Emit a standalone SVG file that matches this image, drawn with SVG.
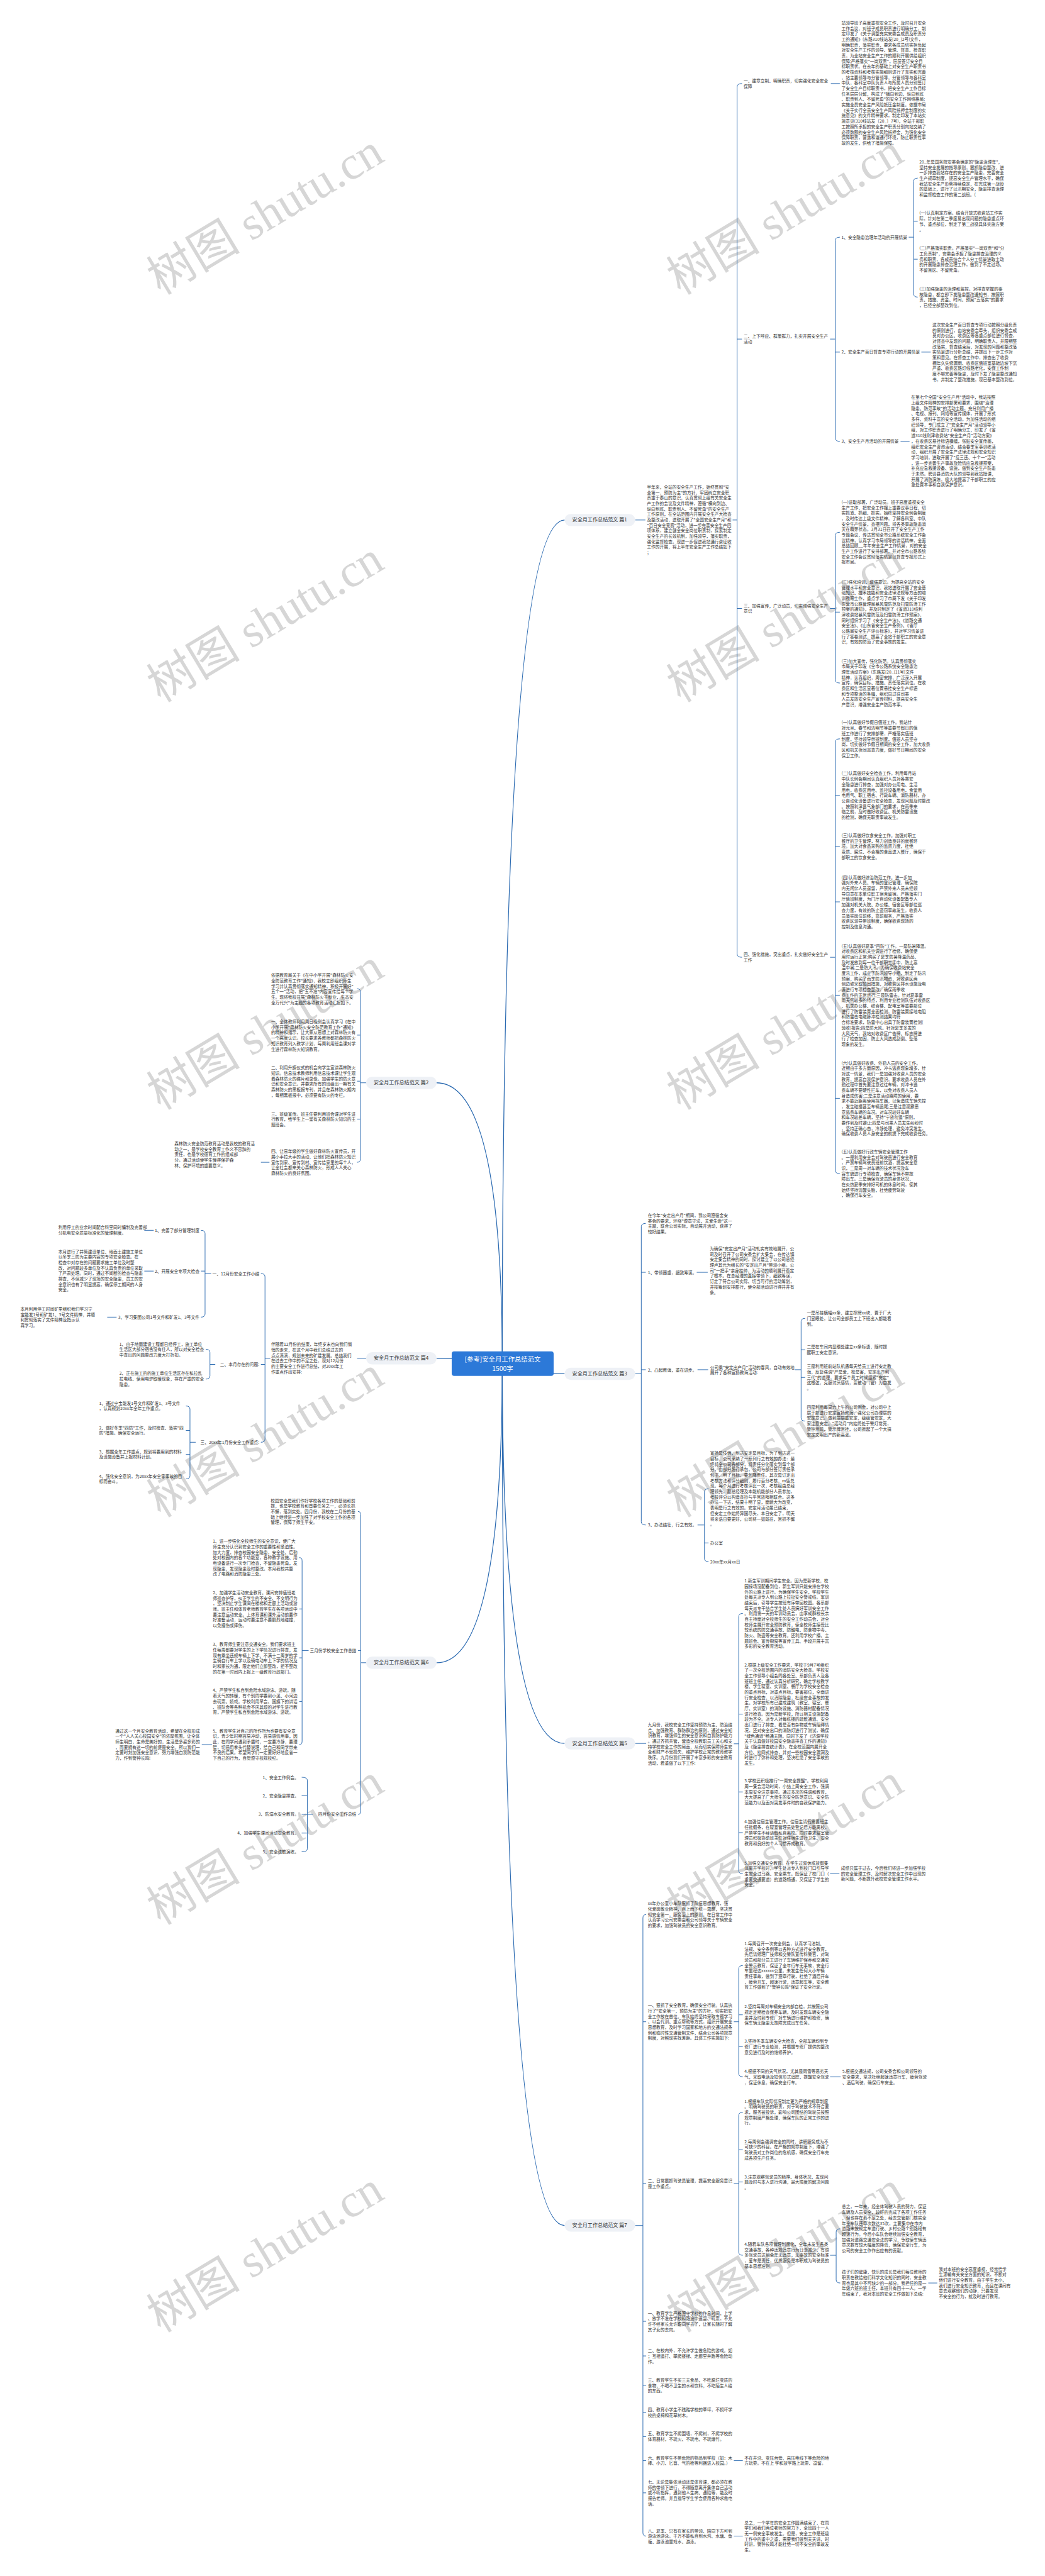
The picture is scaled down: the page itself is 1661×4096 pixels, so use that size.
<svg xmlns="http://www.w3.org/2000/svg" width="1661" height="4096" viewBox="0 0 1661 4096">
<style>
.t{font-family:"Noto Sans CJK SC","Liberation Sans",sans-serif;font-size:10.4px;fill:#333}
.e{text-anchor:end}
.n{font-family:"Noto Sans CJK SC","Liberation Sans",sans-serif;font-size:12.5px;fill:#333;text-anchor:middle}
.nb{fill:#eef1f6}
.c{fill:none;stroke:#2868b0;stroke-width:1.5}
.m{fill:none;stroke:#2868b0;stroke-width:2}
.w{font-family:"Liberation Serif","Noto Sans CJK SC",serif;font-size:115px;fill:#d6d6d6;text-anchor:middle}
.r{font-family:"Noto Sans CJK SC","Liberation Sans",sans-serif;font-size:16px;fill:#fff;text-anchor:middle}
</style>
<rect width="1661" height="4096" fill="#fff"/>
<g transform="scale(0.648)">
<g id="watermarks">
<text class="w" x="650" y="565" transform="rotate(-31 650 525)">树图 shutu.cn</text>
<text class="w" x="1925" y="565" transform="rotate(-31 1925 525)">树图 shutu.cn</text>
<text class="w" x="650" y="1565" transform="rotate(-31 650 1525)">树图 shutu.cn</text>
<text class="w" x="1925" y="1565" transform="rotate(-31 1925 1525)">树图 shutu.cn</text>
<text class="w" x="650" y="2565" transform="rotate(-31 650 2525)">树图 shutu.cn</text>
<text class="w" x="1925" y="2565" transform="rotate(-31 1925 2525)">树图 shutu.cn</text>
<text class="w" x="650" y="3565" transform="rotate(-31 650 3525)">树图 shutu.cn</text>
<text class="w" x="1925" y="3565" transform="rotate(-31 1925 3525)">树图 shutu.cn</text>
<text class="w" x="650" y="4565" transform="rotate(-31 650 4525)">树图 shutu.cn</text>
<text class="w" x="1925" y="4565" transform="rotate(-31 1925 4525)">树图 shutu.cn</text>
<text class="w" x="650" y="5565" transform="rotate(-31 650 5525)">树图 shutu.cn</text>
<text class="w" x="1925" y="5565" transform="rotate(-31 1925 5525)">树图 shutu.cn</text>
</g>
<g id="connectors">
<path class="m" d="M1232,3346 Q1232,1276 1385,1276"/>
<path class="m" d="M1232,3346 Q1232,2657 1071,2657"/>
<path class="m" d="M1232,3346 Q1232,3371 1385,3371"/>
<path class="m" d="M1232,3346 Q1232,3333 1071,3333"/>
<path class="m" d="M1232,3346 Q1232,4278 1385,4278"/>
<path class="m" d="M1232,3346 Q1232,4080 1071,4080"/>
<path class="m" d="M1232,3346 Q1232,5461 1385,5461"/>
<path class="c" d="M1558,1276 L1583,1276 M1797,1276 L1808,1276 M1820,205 Q1808,205 1808,213 L1808,2341 Q1808,2349 1820,2349 M1808,832 L1820,832 M1808,1493 L1820,1493"/>
<path class="c" d="M2038,205 L2060,205 M2036,832 L2049,832 M2060,582 Q2049,582 2049,590 L2049,1075 Q2049,1083 2060,1083 M2049,864 L2060,864"/>
<path class="c" d="M2229,582 L2241,582 M2251,437 Q2241,437 2241,445 L2241,721 Q2241,729 2251,729 M2241,543 L2251,543 M2241,636 L2251,636 M2260,864 L2283,864 M2209,1083 L2231,1083"/>
<path class="c" d="M2036,1493 L2049,1493 M2060,1306 Q2049,1306 2049,1314 L2049,1668 Q2049,1676 2060,1676 M2049,1502 L2060,1502"/>
<path class="c" d="M2036,2349 L2049,2349 M2060,1813 Q2049,1813 2049,1821 L2049,2872 Q2049,2880 2060,2880 M2049,1952 L2060,1952 M2049,2077 L2060,2077 M2049,2213 L2060,2213 M2049,2442 L2060,2442 M2049,2695 L2060,2695"/>
<path class="c" d="M898,2657 L884,2657 M876,2426 Q884,2426 884,2434 L884,2844 Q884,2852 876,2852 M884,2540 L876,2540 M884,2653 L876,2653 M884,2746 L876,2746 M661,2852 L640,2852"/>
<path class="c" d="M898,3333 L876,3333 M663,3333 L650,3333 M640,3125 Q650,3125 650,3133 L650,3531 Q650,3539 640,3539 M650,3348 L640,3348"/>
<path class="c" d="M518,3125 L503,3125 M493,3019 Q503,3019 503,3027 L503,3224 Q503,3232 493,3232 M503,3119 L493,3119 M377,3019 L354,3019 M377,3119 L354,3119 M286,3232 L263,3232"/>
<path class="c" d="M528,3348 L515,3348 M505,3311 Q515,3311 515,3319 L515,3376 Q515,3384 505,3384"/>
<path class="c" d="M480,3539 L466,3539 M456,3450 Q466,3450 466,3458 L466,3621 Q466,3629 456,3629 M466,3510 L456,3510 M466,3569 L456,3569"/>
<path class="c" d="M898,4080 L885,4080 M878,3709 Q885,3709 885,3717 L885,4444 Q885,4452 878,4452 M885,4050 L878,4050"/>
<path class="c" d="M757,4050 L741,4050 M734,3822 Q741,3822 741,3830 L741,4273 Q741,4281 734,4281 M741,3948 L734,3948 M741,4068 L734,4068 M741,4175 L734,4175 M520,4281 L495,4281"/>
<path class="c" d="M767,4452 L754,4452 M740,4361 Q754,4361 754,4369 L754,4536 Q754,4544 740,4544 M754,4406 L740,4406 M754,4452 L740,4452 M754,4498 L740,4498"/>
<path class="c" d="M1558,3371 L1573,3371 M1584,3002 Q1573,3002 1573,3010 L1573,3734 Q1573,3742 1584,3742 M1573,3122 L1584,3122 M1573,3361 L1584,3361 M1709,3122 L1736,3122 M1711,3361 L1737,3361"/>
<path class="c" d="M1950,3361 L1965,3361 M1975,3235 Q1965,3235 1965,3243 L1965,3479 Q1965,3487 1975,3487 M1965,3312 L1975,3312 M1965,3380 L1975,3380"/>
<path class="c" d="M1711,3742 L1728,3742 M1738,3653 Q1728,3653 1728,3661 L1728,3824 Q1728,3832 1738,3832 M1728,3786 L1738,3786"/>
<path class="c" d="M1558,4278 L1585,4278 M1800,4279 L1812,4279 M1822,3959 Q1812,3959 1812,3967 L1812,4590 Q1812,4598 1822,4598 M1812,4206 L1822,4206 M1812,4397 L1822,4397 M1812,4497 L1822,4497 M2036,4598 L2059,4598"/>
<path class="c" d="M1558,5461 L1577,5461 M1585,4698 Q1577,4698 1577,4706 L1577,6215 Q1577,6223 1585,6223 M1577,4961 L1585,4961 M1577,5358 L1585,5358 M1577,5696 L1585,5696 M1577,5781 L1585,5781 M1577,5853 L1585,5853 M1577,5920 L1585,5920 M1577,5979 L1585,5979 M1577,6038 L1585,6038 M1577,6117 L1585,6117"/>
<path class="c" d="M1800,4961 L1812,4961 M1822,4823 Q1812,4823 1812,4831 L1812,5088 Q1812,5096 1822,5096 M1812,4944 L1822,4944 M1812,5022 L1822,5022 M2036,5096 L2062,5096"/>
<path class="c" d="M1800,5358 L1812,5358 M1822,5183 Q1812,5183 1812,5191 L1812,5526 Q1812,5534 1822,5534 M1812,5275 L1822,5275 M1812,5354 L1822,5354"/>
<path class="c" d="M2036,5534 L2051,5534 M2061,5469 Q2051,5469 2051,5477 L2051,5594 Q2051,5602 2061,5602 M2277,5602 L2299,5602 M1800,6038 L1822,6038 M1800,6223 L1822,6223"/>
</g>
<g id="root">
<rect x="1108" y="3316" width="250" height="60" rx="6" fill="#2c79d8"/>
<text class="r" x="1233" y="3341">[参考]安全月工作总结范文</text>
<text class="r" x="1233" y="3364">1500字</text>
</g>
<g id="p1node"><rect class="nb" x="1385" y="1261" width="173" height="30" rx="15"/><text class="n" x="1471" y="1280">安全月工作总结范文 篇1</text></g>
<g id="p2node"><rect class="nb" x="898" y="2642" width="173" height="30" rx="15"/><text class="n" x="984" y="2661">安全月工作总结范文 篇2</text></g>
<g id="p3node"><rect class="nb" x="1385" y="3356" width="173" height="30" rx="15"/><text class="n" x="1471" y="3375">安全月工作总结范文 篇3</text></g>
<g id="p4node"><rect class="nb" x="898" y="3318" width="173" height="30" rx="15"/><text class="n" x="984" y="3337">安全月工作总结范文 篇4</text></g>
<g id="p5node"><rect class="nb" x="1385" y="4263" width="173" height="30" rx="15"/><text class="n" x="1471" y="4282">安全月工作总结范文 篇5</text></g>
<g id="p6node"><rect class="nb" x="898" y="4065" width="173" height="30" rx="15"/><text class="n" x="984" y="4084">安全月工作总结范文 篇6</text></g>
<g id="p7node"><rect class="nb" x="1385" y="5446" width="173" height="30" rx="15"/><text class="n" x="1471" y="5465">安全月工作总结范文 篇7</text></g>

<g id="p1text">
<text class="t" x="1587" y="1199"><tspan x="1587" dy="0">半年来，全站的安全生产工作，始终贯彻"安</tspan><tspan x="1587" dy="13.4">全第一，预防为主"的方针，牢固树立安全职</tspan><tspan x="1587" dy="13.4">责重于泰山的意识，认真贯彻上级有关安全生</tspan><tspan x="1587" dy="13.4">产工作的会议及文件精神，遵循"横向到边、</tspan><tspan x="1587" dy="13.4">纵向到底、职责到人、不留死角"的安全生产</tspan><tspan x="1587" dy="13.4">工作原则，在全站范围内开展安全生产大检查</tspan><tspan x="1587" dy="13.4">及整改活动，进取开展了"全国安全生产月"和</tspan><tspan x="1587" dy="13.4">"百日安全竞赛"活动，进一步完善安全生产四</tspan><tspan x="1587" dy="13.4">项体系，建立健全安全岗位职责制，探索制定</tspan><tspan x="1587" dy="13.4">安全生产的长效机制，加强领导，落实职责，</tspan><tspan x="1587" dy="13.4">强化监督检查。现进一步促进我站通行费征收</tspan><tspan x="1587" dy="13.4">工作的开展，将上半年安全生产工作总结如下</tspan><tspan x="1587" dy="13.4">；</tspan></text>
<text class="t" x="1824" y="202"><tspan x="1824" dy="0">一、建章立制、明确职责，切实强化安全安全</tspan><tspan x="1824" dy="13.4">保障</tspan></text>
<text class="t" x="1824" y="829"><tspan x="1824" dy="0">二、上下呼应、群策群力，扎实开展安全生产</tspan><tspan x="1824" dy="13.4">活动</tspan></text>
<text class="t" x="1824" y="1490"><tspan x="1824" dy="0">三、加强宣传，广泛动员，切实增强安全生产</tspan><tspan x="1824" dy="13.4">意识</tspan></text>
<text class="t" x="1824" y="2346"><tspan x="1824" dy="0">四、强化措施，突出重点，扎实做好安全生产</tspan><tspan x="1824" dy="13.4">工作</tspan></text>
<text class="t" x="2064" y="60"><tspan x="2064" dy="0">站领导班子高度重视安全工作，及时召开安全</tspan><tspan x="2064" dy="13.4">工作会议，对班子成员职责进行明确分工，制</tspan><tspan x="2064" dy="13.4">定印发了《关于调整充实安委会成员及职责分</tspan><tspan x="2064" dy="13.4">工的通知》(东路310线站发[20_]2号)文件，</tspan><tspan x="2064" dy="13.4">明确职责，落实职责，要求各成员切实担负起</tspan><tspan x="2064" dy="13.4">对安全生产工作的领导、管理、督查、检查职</tspan><tspan x="2064" dy="13.4">责，为全站安全生产工作的顺利开展供给组织</tspan><tspan x="2064" dy="13.4">保障;严格落实"一岗双责"，层层签订安全目</tspan><tspan x="2064" dy="13.4">标职责状。在去年的基础上对安全生产职责书</tspan><tspan x="2064" dy="13.4">的考核资料和考核实施细则进行了充实和完善</tspan><tspan x="2064" dy="13.4">，站主要领导与分管领导，分管领导与各科室</tspan><tspan x="2064" dy="13.4">中队，各科室中队负责人与所属人员分别签订</tspan><tspan x="2064" dy="13.4">了安全生产目标职责书，把安全生产工作目标</tspan><tspan x="2064" dy="13.4">任务层层分解，构成了"横向到边、纵向到底</tspan><tspan x="2064" dy="13.4">、职责到人、不留死角"的安全工作网络格局;</tspan><tspan x="2064" dy="13.4">实施全员安全生产风险抵压金制度。依据市局</tspan><tspan x="2064" dy="13.4">《关于实行全员安全生产风险抵押金制度的实</tspan><tspan x="2064" dy="13.4">施意见》的文件精神要求，制定印发了本站实</tspan><tspan x="2064" dy="13.4">施意见(310线站发〔20_〕7号)，全站干部职</tspan><tspan x="2064" dy="13.4">工按照所承担的安全生产职责分别向站交纳了</tspan><tspan x="2064" dy="13.4">必须数额的安全生产风险抵押金，为强化安全</tspan><tspan x="2064" dy="13.4">保障职责，营造和谐通行环境，防止职责性事</tspan><tspan x="2064" dy="13.4">故的发生，供给了措施保障。</tspan></text>
<text class="t" x="2064" y="586">1、安全隐患治理年活动的开展情景</text>
<text class="t" x="2064" y="867">2、安全生产百日督查专项行动的开展情景</text>
<text class="t" x="2064" y="1087">3、安全生产月活动的开展情景</text>
<text class="t" x="2255" y="401"><tspan x="2255" dy="0">20_年是国务院安委会确定的"隐患治理年"，</tspan><tspan x="2255" dy="13.4">坚持安全发展的指导原则，狠抓隐患整改，进</tspan><tspan x="2255" dy="13.4">一步排查我站存在的安全生产隐患，完善安全</tspan><tspan x="2255" dy="13.4">生产规章制度，提高安全生产管理水平，确保</tspan><tspan x="2255" dy="13.4">我站安全生产形势持续稳定，在完成第一战役</tspan><tspan x="2255" dy="13.4">的基础上，进行了以汛期安全，隐患排查治理</tspan><tspan x="2255" dy="13.4">和监督检查工作的第二战役。(</tspan></text>
<text class="t" x="2255" y="527"><tspan x="2255" dy="0">(一)认真制定方案。结合开放式收费站工作实</tspan><tspan x="2255" dy="13.4">际，针对在第二季度易出现问题的隐患重点环</tspan><tspan x="2255" dy="13.4">节、重点部位，制定了第二战役具体实施方案</tspan><tspan x="2255" dy="13.4">。</tspan></text>
<text class="t" x="2255" y="613"><tspan x="2255" dy="0">(二)严格落实职责。严格落实"一岗双责"和"分</tspan><tspan x="2255" dy="13.4">工负责制"，安委会承担了隐患排查治理的义</tspan><tspan x="2255" dy="13.4">务和职责，各成员结合个人分工情景进取主动</tspan><tspan x="2255" dy="13.4">的开展隐患排查治理工作，做到了不走过场、</tspan><tspan x="2255" dy="13.4">不留盲区、不留死角。</tspan></text>
<text class="t" x="2255" y="713"><tspan x="2255" dy="0">(三)加强隐患的治理和监控。对排查掌握的事</tspan><tspan x="2255" dy="13.4">故隐患，都立即下发隐患整改通知书，按照职</tspan><tspan x="2255" dy="13.4">责、措施、资金、时间、预案"五落实"的要求</tspan><tspan x="2255" dy="13.4">，已经全部整改到位。</tspan></text>
<text class="t" x="2287" y="801"><tspan x="2287" dy="0">这次安全生产百日督查专项行动按照分级负责</tspan><tspan x="2287" dy="13.4">的原则进行，由站安委会牵头，组织安委会成</tspan><tspan x="2287" dy="13.4">员对办公区、收费区等各重点部位进行督查，</tspan><tspan x="2287" dy="13.4">对督查中发现的问题，明确职责人，并限期整</tspan><tspan x="2287" dy="13.4">改落实，督查结束后，对发现的问题和整改落</tspan><tspan x="2287" dy="13.4">实情景进行分析总结，并提出下一步工作对</tspan><tspan x="2287" dy="13.4">策和意见。在督查工作中，排查出了收费</tspan><tspan x="2287" dy="13.4">棚年久失修漏雨、收费区值班室基础边坡下沉</tspan><tspan x="2287" dy="13.4">严重、收费区路灯线路老化，安保工作制</tspan><tspan x="2287" dy="13.4">度不够完善等隐患，及时下发了隐患整改通知</tspan><tspan x="2287" dy="13.4">书，并制定了整改措施，现已基本整改到位。</tspan></text>
<text class="t" x="2235" y="979"><tspan x="2235" dy="0">在第七个全国"安全生产月"活动中，我站按照</tspan><tspan x="2235" dy="13.4">上级文件精神的安排部署和要求，围绕"治理</tspan><tspan x="2235" dy="13.4">隐患、防范事故"的活动主题，充分利用广播</tspan><tspan x="2235" dy="13.4">、电视、报刊、网络等宣传媒体，开展了形式</tspan><tspan x="2235" dy="13.4">多样、资料丰富的安全活动。为加强活动的组</tspan><tspan x="2235" dy="13.4">织领导，专门成立了"安全生产月"活动领导小</tspan><tspan x="2235" dy="13.4">组，对工作职责进行了明确分工，印发了《省</tspan><tspan x="2235" dy="13.4">道310线利津收费站"安全生产月"活动方案》</tspan><tspan x="2235" dy="13.4">，在收费区悬挂标语横幅，张贴安全宣传画，</tspan><tspan x="2235" dy="13.4">组织安全生产咨询活动，结合春季军事训练活</tspan><tspan x="2235" dy="13.4">动，组织开展了安全生产法律法规和安全知识</tspan><tspan x="2235" dy="13.4">学习培训，进取开展了"反三违、十个一"活动</tspan><tspan x="2235" dy="13.4">，进一步完善生产事故及险情应急救援预案，</tspan><tspan x="2235" dy="13.4">补充应急救援设备、设施，做到安全生产防患</tspan><tspan x="2235" dy="13.4">于未然。聘请县消防大队的领导到我站授课，</tspan><tspan x="2235" dy="13.4">开展了消防演练，极大地提高了干部职工的应</tspan><tspan x="2235" dy="13.4">急处置本事和自我保护意识。</tspan></text>
<text class="t" x="2064" y="1236"><tspan x="2064" dy="0">(一)进取部署，广泛动员。班子高度重视安全</tspan><tspan x="2064" dy="13.4">生产工作，把安全工作摆上重要议事日程，切</tspan><tspan x="2064" dy="13.4">实抓紧、抓细、抓实。始终坚持安全例会制度</tspan><tspan x="2064" dy="13.4">，及时传达上级文件精神，了解各科室、中队</tspan><tspan x="2064" dy="13.4">安全生产情景，查摆问题，将各类事故隐患消</tspan><tspan x="2064" dy="13.4">灭在萌芽状态。3月31日召开了安全生产工作</tspan><tspan x="2064" dy="13.4">专题会议，传达贯彻全市公路系统安全工作会</tspan><tspan x="2064" dy="13.4">议精神，认真学习市局领导的讲话精神，全面</tspan><tspan x="2064" dy="13.4">总结回顾__年年安全生产工作情景，对的安全</tspan><tspan x="2064" dy="13.4">生产工作进行了安排部署，并对全市公路系统</tspan><tspan x="2064" dy="13.4">安全工作会议贯彻落实情景以督查专报形式上</tspan><tspan x="2064" dy="13.4">报市局。</tspan></text>
<text class="t" x="2064" y="1432"><tspan x="2064" dy="0">(二)强化培训，增强意识。为提高全站的安全</tspan><tspan x="2064" dy="13.4">管理水平和安全意识，我站进取开展了安全基</tspan><tspan x="2064" dy="13.4">础知识、技术技能和安全法律法规等方面的培</tspan><tspan x="2064" dy="13.4">训教育工作，重点学习了市局下发《关于印发</tspan><tspan x="2064" dy="13.4">东营市公路管理局暴风雪防范及扫雪防滑工作</tspan><tspan x="2064" dy="13.4">预案的通知》，并及时制定了《省道310线利</tspan><tspan x="2064" dy="13.4">津收费站暴风雪防范及扫雪防滑工作预案》，</tspan><tspan x="2064" dy="13.4">同时组织学习了《安全生产法》、《道路交通</tspan><tspan x="2064" dy="13.4">安全法》、《山东省安全生产条例》、《省厅</tspan><tspan x="2064" dy="13.4">公路局安全生产评价标准》，并对学习情景进</tspan><tspan x="2064" dy="13.4">行了答卷测试，提高了全站干部职工的安全意</tspan><tspan x="2064" dy="13.4">识，有效的防范了安全事故的发生。</tspan></text>
<text class="t" x="2064" y="1626"><tspan x="2064" dy="0">(三)加大宣传，强化防范。认真贯彻落实</tspan><tspan x="2064" dy="13.4">市局关于印发《全市公路系统安全隐患治</tspan><tspan x="2064" dy="13.4">理年活动方案》(东路发[20_]11号)文件</tspan><tspan x="2064" dy="13.4">精神，认真组织，周密安排，广泛深入开展</tspan><tspan x="2064" dy="13.4">宣传，确保目标、措施、责任落实到位。在收</tspan><tspan x="2064" dy="13.4">费区和生活区显著位置悬挂安全生产标语</tspan><tspan x="2064" dy="13.4">和专项整治的条幅，组织向过往司乘</tspan><tspan x="2064" dy="13.4">人员发放安全生产宣传材料，提高安全生</tspan><tspan x="2064" dy="13.4">产意识，增强安全生产防范本事。</tspan></text>
<text class="t" x="2064" y="1777"><tspan x="2064" dy="0">(一)认真做好节假日值班工作。我站针</tspan><tspan x="2064" dy="13.4">对元旦、春节和清明节等重要节假日的值</tspan><tspan x="2064" dy="13.4">班工作进行了安排部署，严格落实值班</tspan><tspan x="2064" dy="13.4">制度，坚持领导带班制度，值班人员坚守</tspan><tspan x="2064" dy="13.4">岗，切实做好节假日期间的安全工作，加大收费</tspan><tspan x="2064" dy="13.4">区和机关夜间巡查力度，做好节日期间的安全</tspan><tspan x="2064" dy="13.4">保卫工作。</tspan></text>
<text class="t" x="2064" y="1902"><tspan x="2064" dy="0">(二)认真做好安全检查工作。利用每月站</tspan><tspan x="2064" dy="13.4">中队长例会期间认真组织人员对各类安</tspan><tspan x="2064" dy="13.4">全隐患进行排查，加强对办公用电、生活</tspan><tspan x="2064" dy="13.4">用电，收费区用电、监控设备用电，食堂用</tspan><tspan x="2064" dy="13.4">电用气、职工宿舍、行政车辆、消防器材、办</tspan><tspan x="2064" dy="13.4">公自动化设备进行安全检查，发现问题及时整改</tspan><tspan x="2064" dy="13.4">。按照利津县气象部门的要求，在雨季来</tspan><tspan x="2064" dy="13.4">临之前，及时做好收费区、机关防雷设施</tspan><tspan x="2064" dy="13.4">的检测，确保无职责事故发生。</tspan></text>
<text class="t" x="2064" y="2054"><tspan x="2064" dy="0">(三)认真做好饮食安全工作。加强对职工</tspan><tspan x="2064" dy="13.4">餐厅的卫生管理，努力创造良好的就餐环</tspan><tspan x="2064" dy="13.4">境。加大对食品采购的监督力度，杜绝</tspan><tspan x="2064" dy="13.4">变质、腐烂、不合格的食品进入餐厅，确保干</tspan><tspan x="2064" dy="13.4">部职工的饮食安全。</tspan></text>
<text class="t" x="2064" y="2157"><tspan x="2064" dy="0">(四)认真做好综治防范工作。进一步加</tspan><tspan x="2064" dy="13.4">强对外来人员、车辆的登记管理，确保院</tspan><tspan x="2064" dy="13.4">内无闲杂人员逗留，严禁外来人员未经领</tspan><tspan x="2064" dy="13.4">导同意在本单位职工宿舍留宿。严格落实门</tspan><tspan x="2064" dy="13.4">厅值班制度，为门厅自动化设备配备专人</tspan><tspan x="2064" dy="13.4">加强对机关大院、办公楼、宿舍区等部位巡</tspan><tspan x="2064" dy="13.4">查力度，有效的防止盗窃事故发生。收费人</tspan><tspan x="2064" dy="13.4">员落实岗位前移，靠前服务，严格落实</tspan><tspan x="2064" dy="13.4">收费区领导带班制度，确保收费现场的</tspan><tspan x="2064" dy="13.4">控制及信息沟通。</tspan></text>
<text class="t" x="2064" y="2325"><tspan x="2064" dy="0">(五)认真做好夏季"四防"工作。一是防暑降温。</tspan><tspan x="2064" dy="13.4">对收费区和机关空调进行了检修，确保使</tspan><tspan x="2064" dy="13.4">用时运行正常;购买了夏季防暑降温药品，</tspan><tspan x="2064" dy="13.4">及时发放到每一位干部职工手中，防止高</tspan><tspan x="2064" dy="13.4">温中暑;二是防大汛。为确保收费站安全</tspan><tspan x="2064" dy="13.4">度汛工作，成立了防汛领导小组，制定了防汛</tspan><tspan x="2064" dy="13.4">预案，购买了雨季防汛物资，对收费区两</tspan><tspan x="2064" dy="13.4">侧边坡采取加固措施，对收费区排水设施及电</tspan><tspan x="2064" dy="13.4">源进行专项检查整改，确保雨季收</tspan><tspan x="2064" dy="13.4">费工作的正常运行;三是防雷击。针对夏季雷</tspan><tspan x="2064" dy="13.4">雨天气较多的特点，利用专业检测队伍对收费区</tspan><tspan x="2064" dy="13.4">、机关办公楼、综合楼、配电室等重要部位</tspan><tspan x="2064" dy="13.4">进行了防雷装置全面检测，防雷装置接地电阻</tspan><tspan x="2064" dy="13.4">和防雷击电磁脉冲检测结果均符</tspan><tspan x="2064" dy="13.4">合标准要求，防雷中心出具了防雷装置检测(</tspan><tspan x="2064" dy="13.4">验收)报告;四是防大风。针对夏季多发的</tspan><tspan x="2064" dy="13.4">大风天气，我站对收费区广告牌、标志牌进</tspan><tspan x="2064" dy="13.4">行了检查加固，防止大风造成刮倒、坠落</tspan><tspan x="2064" dy="13.4">现象的发生。</tspan></text>
<text class="t" x="2064" y="2612"><tspan x="2064" dy="0">(六)认真做好收费、外勤人员的安全工作。</tspan><tspan x="2064" dy="13.4">近期由于多方面原因，冲卡逃费现象增多，针</tspan><tspan x="2064" dy="13.4">对这一情景，我们一是加强对收费人员的安全</tspan><tspan x="2064" dy="13.4">教育，提高自我保护意识，要求收费人员在外</tspan><tspan x="2064" dy="13.4">勤过程中首先要注意过往车辆，对冲卡逃</tspan><tspan x="2064" dy="13.4">费车辆不要硬性拦车，以免对收费人员人</tspan><tspan x="2064" dy="13.4">身造成伤害;二是注意活动路障的使用，要</tspan><tspan x="2064" dy="13.4">求不能近距离使用挡车器，以免造成车辆失控</tspan><tspan x="2064" dy="13.4">，发生碰撞甚至车辆追尾;三是注意观察恶</tspan><tspan x="2064" dy="13.4">意逃费车辆的车况。对车况较好车辆</tspan><tspan x="2064" dy="13.4">和车况较差车辆，坚持"宁放勿追"原则，</tspan><tspan x="2064" dy="13.4">要作到及时避让;四是与司乘人员发生纠纷时</tspan><tspan x="2064" dy="13.4">，坚持正确心态，冷静处理，避免冲突发生，</tspan><tspan x="2064" dy="13.4">确保收费人员人身安全的前提下完成收费任务。</tspan></text>
<text class="t" x="2064" y="2830"><tspan x="2064" dy="0">(五)认真做好行政车辆安全管理工作</tspan><tspan x="2064" dy="13.4">。一是利用安全会对驾驶员进行安全教育</tspan><tspan x="2064" dy="13.4">，严禁车辆驾驶员班前饮酒，提高安全意</tspan><tspan x="2064" dy="13.4">识，二是周一对车辆的技术状况及车</tspan><tspan x="2064" dy="13.4">容车貌进行专项检查，确保车辆不带故</tspan><tspan x="2064" dy="13.4">障出车。三是确保驾驶员的身体状况，</tspan><tspan x="2064" dy="13.4">在炎热夏季安排好司机的休息时间，使其</tspan><tspan x="2064" dy="13.4">始终坚持清醒头脑，杜绝疲劳驾驶</tspan><tspan x="2064" dy="13.4">，确保行车安全。</tspan></text>
</g>

<g id="p2text">
<text class="t" x="665" y="2397"><tspan x="665" dy="0">依据教育局关于《在中小学开展"森林防火安</tspan><tspan x="665" dy="13.4">全防范教育工作"通知》，我校立即组织师生</tspan><tspan x="665" dy="13.4">学习并认真贯彻落实通知精神，积极开展好"</tspan><tspan x="665" dy="13.4">五个一"活动，把"五不准"内容宣传给每个学</tspan><tspan x="665" dy="13.4">生。现将我校开展"森林防火千秋业，生态安</tspan><tspan x="665" dy="13.4">全万代兴"为主题的各项教育活动汇报如下。</tspan></text>
<text class="t" x="665" y="2511"><tspan x="665" dy="0">一、全体教师利用周日晚例会认真学习《在中</tspan><tspan x="665" dy="13.4">小学开展"森林防火安全防范教育工作"通知》</tspan><tspan x="665" dy="13.4">的精神和指示，让大家从思想上对森林防火有</tspan><tspan x="665" dy="13.4">一个高度认识。校长要求各教师都把森林防火</tspan><tspan x="665" dy="13.4">知识教育列入教学计划，每周利用班会课对学</tspan><tspan x="665" dy="13.4">生进行森林防火知识教育。</tspan></text>
<text class="t" x="665" y="2624"><tspan x="665" dy="0">二、利用升旗仪式的机会向学生宣讲森林防火</tspan><tspan x="665" dy="13.4">知识。信息技术教师利用信息技术课让学生观</tspan><tspan x="665" dy="13.4">看森林防火的碟片和录像。加强学生的防火意</tspan><tspan x="665" dy="13.4">识和安全意识。并要求所有的班级出一期有关</tspan><tspan x="665" dy="13.4">森林防火的黑板报专刊，并且在森林防火期内</tspan><tspan x="665" dy="13.4">，每期黑板报中，必须要有防火的专栏。</tspan></text>
<text class="t" x="665" y="2737"><tspan x="665" dy="0">三、班级宣传。班主任要利用班会课对学生进</tspan><tspan x="665" dy="13.4">行教育，给学生上一堂有关森林防火知识的主</tspan><tspan x="665" dy="13.4">题班会。</tspan></text>
<text class="t" x="665" y="2829"><tspan x="665" dy="0">四、让高年级的学生做好森林防火宣传员，开</tspan><tspan x="665" dy="13.4">展小手拉大手的活动，让他们把森林防火知识</tspan><tspan x="665" dy="13.4">宣传到家、宣传到村、宣传给家里的每个人，</tspan><tspan x="665" dy="13.4">让全社会都来关心森林防火，形成人人关心</tspan><tspan x="665" dy="13.4">森林防火的良好氛围。</tspan></text>
<text class="t" x="428" y="2810"><tspan x="428" dy="0">森林防火安全防范教育活动是我校的教育活</tspan><tspan x="428" dy="13.4">动之一，是学校安全教育工作义不容辞的</tspan><tspan x="428" dy="13.4">责任，也是学校德育工作的组成部</tspan><tspan x="428" dy="13.4">分。通过活动使学生懂得保护森</tspan><tspan x="428" dy="13.4">林、保护环境的重要意义。</tspan></text>
</g>

<g id="p4text">
<text class="t" x="665" y="3303"><tspan x="665" dy="0">伴随着12月份的结束，年终岁末也向我们悄</tspan><tspan x="665" dy="13.4">悄的走来，在这个月中我们总结过去的</tspan><tspan x="665" dy="13.4">点点滴滴，规划未来的矿建发展。总结我们</tspan><tspan x="665" dy="13.4">在过去工作中的不足之处，现对12月份</tspan><tspan x="665" dy="13.4">的主要安全工作进行总结，对20xx年工</tspan><tspan x="665" dy="13.4">作重点作出安排:</tspan></text>
<text class="t e" x="636" y="3129">一、12月份安全工作小结</text>
<text class="t e" x="636" y="3352">二、本月存在的问题:</text>
<text class="t e" x="636" y="3543">三、20xx年1月份安全工作重点:</text>
<text class="t e" x="489" y="3023">1、完善了部分管理制度</text>
<text class="t e" x="489" y="3123">2、开展安全专项大检查</text>
<text class="t e" x="489" y="3236">3、学习集团公司1号文件和矿发1、3号文件</text>
<text class="t" x="143" y="3016"><tspan x="143" dy="0">利用停工的业余时间配合科里同时编制及完善部</tspan><tspan x="143" dy="13.4">分机电安全质量标准化的管理制度。</tspan></text>
<text class="t" x="143" y="3075"><tspan x="143" dy="0">本月进行了井筒建设单位、地面土建施工单位</tspan><tspan x="143" dy="13.4">以冬季三防为主要内容的专项安全检查。在</tspan><tspan x="143" dy="13.4">检查中对存在的问题要求施工单位及时整</tspan><tspan x="143" dy="13.4">改，对问题较多单位及不认真负责的单位采取</tspan><tspan x="143" dy="13.4">了严肃处理。同时，通过不间断的检查与隐患</tspan><tspan x="143" dy="13.4">排查，不但减少了现场的安全隐患，员工的安</tspan><tspan x="143" dy="13.4">全意识也有了明显提高，确保停工期间的人身</tspan><tspan x="143" dy="13.4">安全。</tspan></text>
<text class="t" x="50" y="3216"><tspan x="50" dy="0">本月利用停工时间矿里组织我们学习宁</tspan><tspan x="50" dy="13.4">宝能发1号和矿发1、3号文件精神，并顺</tspan><tspan x="50" dy="13.4">利贯彻落实了文件精神及指示认</tspan><tspan x="50" dy="13.4">真学习。</tspan></text>
<text class="t" x="293" y="3302"><tspan x="293" dy="0">1、由于地面建设工程都已经停工，施工单位</tspan><tspan x="293" dy="13.4">生活区大部分宿舍没有住人，所以对安全检查</tspan><tspan x="293" dy="13.4">中查出的问题整改力度大打折扣。</tspan></text>
<text class="t" x="293" y="3374"><tspan x="293" dy="0">2、正在施工的的施工单位生活区存在私拉乱</tspan><tspan x="293" dy="13.4">拉电线、使用电炉取暖现象，存在严重的安全</tspan><tspan x="293" dy="13.4">隐患。</tspan></text>
<text class="t" x="243" y="3447"><tspan x="243" dy="0">1、通过宁宝能发1号文件和矿发1、3号文件</tspan><tspan x="243" dy="13.4">，认真规划20xx年全年工作重点。</tspan></text>
<text class="t" x="243" y="3507"><tspan x="243" dy="0">2、做好冬季"四防"工作，及时检查、落实"四</tspan><tspan x="243" dy="13.4">防"措施。确保安全运行。</tspan></text>
<text class="t" x="243" y="3566"><tspan x="243" dy="0">3、根据全年工作重点，规划将要用到的材料</tspan><tspan x="243" dy="13.4">及设施设备并上报材料计划。</tspan></text>
<text class="t" x="243" y="3626"><tspan x="243" dy="0">4、强化安全意识，为20xx年安全零事故的目</tspan><tspan x="243" dy="13.4">标而奋斗。</tspan></text>
</g>

<g id="p6text">
<text class="t" x="664" y="3686"><tspan x="664" dy="0">校园安全是我们作好学校各项工作的基础和前</tspan><tspan x="664" dy="13.4">提，也是学校教育和首要任务之一，必须长抓</tspan><tspan x="664" dy="13.4">不懈，落到实处。四月份，我校在二月份的基</tspan><tspan x="664" dy="13.4">础上继续进一步加强了对学校安全工作的各项</tspan><tspan x="664" dy="13.4">管理，保障了师生平安。</tspan></text>
<text class="t e" x="874" y="4054">三月份学校安全工作总结</text>
<text class="t e" x="874" y="4456">四月份安全工作总结</text>
<text class="t" x="522" y="3786"><tspan x="522" dy="0">1、进一步强化全校师生的安全意识，使广大</tspan><tspan x="522" dy="13.4">师生充分认识到安全工作的重要性和紧迫性。</tspan><tspan x="522" dy="13.4">加大力度，排查校园安全隐患，安全处、后勤</tspan><tspan x="522" dy="13.4">处对校园内的各个功能室，各种教学设施、用</tspan><tspan x="522" dy="13.4">电设备进行一次专门检查，不留隐患死角，发</tspan><tspan x="522" dy="13.4">现隐患，发现隐患及时整改。本月我校共整</tspan><tspan x="522" dy="13.4">改了电路和消防隐患三处。</tspan></text>
<text class="t" x="522" y="3912"><tspan x="522" dy="0">2、加强学生活动安全教育。课间安排值班老</tspan><tspan x="522" dy="13.4">师巡查护导，纠正学生的不安全、不文明行为</tspan><tspan x="522" dy="13.4">，坚决制止学生课间在楼梯和走廊上活动或游</tspan><tspan x="522" dy="13.4">戏。班主任和体育老师教育学生在各项运动中</tspan><tspan x="522" dy="13.4">要注意运动安全。上体育课和课外活动前要作</tspan><tspan x="522" dy="13.4">好准备活动，运动时要注意不要剧烈地碰撞，</tspan><tspan x="522" dy="13.4">以免撞伤或摔伤。</tspan></text>
<text class="t" x="522" y="4039"><tspan x="522" dy="0">3、教育师生要注意交通安全。我们要求班主</tspan><tspan x="522" dy="13.4">任每周都要对学生的上下学情况进行排查，发</tspan><tspan x="522" dy="13.4">现有乘坐违规车辆上下学、不满十二周岁的学</tspan><tspan x="522" dy="13.4">生骑自行车上学以及骑电动车上下学的情况及</tspan><tspan x="522" dy="13.4">时和家长沟通，限定他们立即整改，拒不整改</tspan><tspan x="522" dy="13.4">的在第一时间内上报上一级教育行政部门。</tspan></text>
<text class="t" x="522" y="4152"><tspan x="522" dy="0">4、严禁学生私自到危险水域游泳、游玩。随</tspan><tspan x="522" dy="13.4">着天气的转暖，有个别同学要到小溪、小河边</tspan><tspan x="522" dy="13.4">去玩耍、嬉戏。学校利用早会、国旗下的讲话</tspan><tspan x="522" dy="13.4">、班队会等各种机会不厌其烦的对学生进行教</tspan><tspan x="522" dy="13.4">育，严禁学生私自到危险水域游泳、游玩。</tspan></text>
<text class="t" x="522" y="4251"><tspan x="522" dy="0">5、教育学生对自己的所作所为也要有安全意</tspan><tspan x="522" dy="13.4">识，青少年时期容易冲动，容易感情用事，因</tspan><tspan x="522" dy="13.4">此，在同学间遇到矛盾时，一定要冷静，要理</tspan><tspan x="522" dy="13.4">智，切忌用拳头代替说理，给自己和同学带来</tspan><tspan x="522" dy="13.4">不良的后果。希望同学们一定要好好地反省一</tspan><tspan x="522" dy="13.4">下自己的行为，自觉遵守校规校纪。</tspan></text>
<text class="t" x="283" y="4251"><tspan x="283" dy="0">通过这一个月安全教育活动，希望在全校形成</tspan><tspan x="283" dy="13.4">一个"人人关心校园安全"的浓厚氛围，让全体</tspan><tspan x="283" dy="13.4">师生明白，生命是美好的，生活是多姿多彩的</tspan><tspan x="283" dy="13.4">，而要拥有这一切的前提是安全。所以我们一</tspan><tspan x="283" dy="13.4">定要时刻加强安全意识，努力增强自我防范能</tspan><tspan x="283" dy="13.4">力，作到警钟长鸣!</tspan></text>
<text class="t e" x="733" y="4365">1、安全工作例会。</text>
<text class="t e" x="733" y="4410">2、安全隐患排查。</text>
<text class="t e" x="733" y="4456">3、防溺水安全教育。</text>
<text class="t e" x="733" y="4502">4、加强学生课间活动安全教育。</text>
<text class="t e" x="733" y="4548">5、安全疏散演练。</text>
</g>

<g id="p3text">
<text class="t" x="1589" y="2986"><tspan x="1589" dy="0">在今年"安定出产月"期间，我公司遵循金安</tspan><tspan x="1589" dy="13.4">委会的要求，环绕"遵章守法，关爱生命"这一</tspan><tspan x="1589" dy="13.4">主题，联合公司实际，自动展开活动，获得了</tspan><tspan x="1589" dy="13.4">较好结果。</tspan></text>
<text class="t" x="1589" y="3126">1、带领器重，细致筹谋。</text>
<text class="t" x="1589" y="3365">2、凸起教诲，重在进步。</text>
<text class="t" x="1589" y="3746">3、办法结壮，行之有效。</text>
<text class="t" x="1741" y="3068"><tspan x="1741" dy="0">为确保"安定出产月"活动轧实有效地展开，公</tspan><tspan x="1741" dy="13.4">司及时召开了公司安委会扩大集会，在传达镇</tspan><tspan x="1741" dy="13.4">安定集会精神的同时，探讨建立了以公司总经</tspan><tspan x="1741" dy="13.4">理卢其元为组长的"安定出产月"带领小组。公</tspan><tspan x="1741" dy="13.4">司"一把手"亲身挂帅，为活动的顺利展开奠定</tspan><tspan x="1741" dy="13.4">了根本。在总经理的直接带领下，细致筹谋，</tspan><tspan x="1741" dy="13.4">订定了符合公司实际、切当可行的活动筹划，</tspan><tspan x="1741" dy="13.4">并按筹划安排履行，使全部活动进行得井井有</tspan><tspan x="1741" dy="13.4">条。</tspan></text>
<text class="t" x="1742" y="3359"><tspan x="1742" dy="0">公司乘"安定出产月"活动的春风，自动有效地</tspan><tspan x="1742" dy="13.4">展开了各种宣扬教诲活动:</tspan></text>
<text class="t" x="1979" y="3226"><tspan x="1979" dy="0">一是吊挂横幅xx条，建立撑牌xx块，置于厂大</tspan><tspan x="1979" dy="13.4">门显眼处，让公司全部员工上下班出入都能看</tspan><tspan x="1979" dy="13.4">到。</tspan></text>
<text class="t" x="1979" y="3309"><tspan x="1979" dy="0">二是在车间内显眼处建立xx条标语，随时提</tspan><tspan x="1979" dy="13.4">醒职工安定意识。</tspan></text>
<text class="t" x="1979" y="3357"><tspan x="1979" dy="0">三是利用班前站队机遇每天给员工进行安定教</tspan><tspan x="1979" dy="13.4">诲，反复强调"严是爱，松是害，安定出产利</tspan><tspan x="1979" dy="13.4">三代"的道理，要求每个员工时候绷紧"安定"</tspan><tspan x="1979" dy="13.4">这根弦，克服讨厌感情，变被动（管）为自发</tspan><tspan x="1979" dy="13.4">。</tspan></text>
<text class="t" x="1979" y="3457"><tspan x="1979" dy="0">四是利用每周六上午的公司例会，对公司中上</tspan><tspan x="1979" dy="13.4">层干部进行安定宣扬教诲，强化公司办理层的</tspan><tspan x="1979" dy="13.4">安定意识。做到层层重安定，级级管安定，大</tspan><tspan x="1979" dy="13.4">家注意安定。"活动月"内始终处于警灯常亮，</tspan><tspan x="1979" dy="13.4">警钟常鸣，警示牌常挂，公司掀起了一个大搞</tspan><tspan x="1979" dy="13.4">安定文明出产的新高涨。</tspan></text>
<text class="t" x="1742" y="3570"><tspan x="1742" dy="0">宣扬是伎俩，到达安定是目标，为了到达这一</tspan><tspan x="1742" dy="13.4">目标，公司采纳了一系列行之有效的办法：最</tspan><tspan x="1742" dy="13.4">终将全公司各部分，将责任分化落实到每个部</tspan><tspan x="1742" dy="13.4">分，由部分履行承包，公司与部分签订责任承</tspan><tspan x="1742" dy="13.4">包书，明了目标、要乞降责任。其次是订定出</tspan><tspan x="1742" dy="13.4">考核方法和评分细则，履行百分考核，m惩兑</tspan><tspan x="1742" dy="13.4">现。每个月进行考核评比一次，考核组由总经</tspan><tspan x="1742" dy="13.4">理领先，副总经理及本能机能部分人员参加，</tspan><tspan x="1742" dy="13.4">考核评分以构造查抄与平常放哨相联合。这条</tspan><tspan x="1742" dy="13.4">办法一下达，结果十明了显，面貌大为改变，</tspan><tspan x="1742" dy="13.4">表明是行之有效的。安定月活动虽已结束，</tspan><tspan x="1742" dy="13.4">但安定工作始终异国尽头，本日安定了，明天</tspan><tspan x="1742" dy="13.4">将来诰日要更好，公司将一如既往，常抓不懈</tspan><tspan x="1742" dy="13.4">。</tspan></text>
<text class="t" x="1742" y="3790">办公室</text>
<text class="t" x="1742" y="3836">20xx年xx月xx日</text>
</g>

<g id="p5text">
<text class="t" x="1589" y="4236"><tspan x="1589" dy="0">九月份，我校安全工作坚持预防为主、防治结</tspan><tspan x="1589" dy="13.4">合、加强教育、群防群治的原则，通过安全知</tspan><tspan x="1589" dy="13.4">识教育，增强师生的安全意识和自我防护能力</tspan><tspan x="1589" dy="13.4">。通过齐抓共管，营造全校教职员工关心和支</tspan><tspan x="1589" dy="13.4">持学校安全工作的局面，从而切实保障师生安</tspan><tspan x="1589" dy="13.4">全和财产不受损失，维护学校正常的教育教学</tspan><tspan x="1589" dy="13.4">秩序。九月份我们开展了丰富多彩的安全教育</tspan><tspan x="1589" dy="13.4">活动，着重做了以下工作:</tspan></text>
<text class="t" x="1826" y="3883"><tspan x="1826" dy="0">1.新生军训期间学生安全。因为是新学校，校</tspan><tspan x="1826" dy="13.4">园操场没配备到位，新生军训只能安排在学校</tspan><tspan x="1826" dy="13.4">外的公路上进行。为确保学生安全，学校学生</tspan><tspan x="1826" dy="13.4">处每天派专人到公路上拉扯安全警戒线。军训</tspan><tspan x="1826" dy="13.4">结束后，引导学生按班有序带回校园。各系部</tspan><tspan x="1826" dy="13.4">每天派专干结合学生处人员搞好军训安全工作</tspan><tspan x="1826" dy="13.4">。利用第一天的军训动员会，由李成群校长亲</tspan><tspan x="1826" dy="13.4">自主持面对全校师生的安全工作动员会，对全</tspan><tspan x="1826" dy="13.4">校师生展开安全预防教育，使全校师生接受比</tspan><tspan x="1826" dy="13.4">较系统的防交通事故、防触电、防食物中毒、</tspan><tspan x="1826" dy="13.4">防火、防盗等安全教育。还利用学校广播、主</tspan><tspan x="1826" dy="13.4">题班会、宣传橱窗等宣传工具、手段开展丰富</tspan><tspan x="1826" dy="13.4">多彩的安全教育活动。</tspan></text>
<text class="t" x="1826" y="4089"><tspan x="1826" dy="0">2.根据上级安全工作要求，学校于9月7号组织</tspan><tspan x="1826" dy="13.4">了一次全校范围内的消防安全大检查。学校安</tspan><tspan x="1826" dy="13.4">全工作领导小组会同各处室、系部负责人及各</tspan><tspan x="1826" dy="13.4">班班主任，通过认真分析研究，确定学校教学</tspan><tspan x="1826" dy="13.4">楼、学生寝室、实训室、餐厅为学校安全检查</tspan><tspan x="1826" dy="13.4">的重点目标，对重点目标，要害部位，全面进</tspan><tspan x="1826" dy="13.4">行安全检查，以消除隐患，杜绝安全事故的发</tspan><tspan x="1826" dy="13.4">生。对学校所有已建成建筑（教室、寝室、餐</tspan><tspan x="1826" dy="13.4">厅、实训室）的消防设施、消防器材配备情况</tspan><tspan x="1826" dy="13.4">进行检查。因为是新学校，所以相关设施配备</tspan><tspan x="1826" dy="13.4">较为齐全。派专人对每栋楼的疏散通道、安全</tspan><tspan x="1826" dy="13.4">出口进行了排查，看是否有杂物或车辆阻碍情</tspan><tspan x="1826" dy="13.4">况，还对安全出口的消防灯进行了测试，确保</tspan><tspan x="1826" dy="13.4">"绿色通道"畅通无阻。同时下发了《济源学校</tspan><tspan x="1826" dy="13.4">关于认真做好校园安全隐患排查工作的通知》</tspan><tspan x="1826" dy="13.4">及《隐患排查统计表》，在全校范围内展开全</tspan><tspan x="1826" dy="13.4">方位、拉网式排查，并对一些校园安全漏洞及</tspan><tspan x="1826" dy="13.4">时进行了弥补和处理，坚决杜绝了安全事故的</tspan><tspan x="1826" dy="13.4">发生。</tspan></text>
<text class="t" x="1826" y="4374"><tspan x="1826" dy="0">3.学校还积极推行"一周安全提醒"。学校利用</tspan><tspan x="1826" dy="13.4">周一集会活动时间，小结上周安全工作，强调</tspan><tspan x="1826" dy="13.4">本周安全注意事项。通过多次的强调和教育，</tspan><tspan x="1826" dy="13.4">大大提高了广大师生的安全防范意识、安全防</tspan><tspan x="1826" dy="13.4">范能力以及面对突发事件时的自我保护能力。</tspan></text>
<text class="t" x="1826" y="4474"><tspan x="1826" dy="0">4.加强住宿生管理工作。住宿生请假需要班主</tspan><tspan x="1826" dy="13.4">任批假条，在寝室管理员处登记后方能离校，</tspan><tspan x="1826" dy="13.4">严禁学生不经请假私自离校。同时要求寝室管</tspan><tspan x="1826" dy="13.4">理员积极协助班主任对住宿生进行卫生、安全</tspan><tspan x="1826" dy="13.4">教育和良好的个人习惯养成教育。</tspan></text>
<text class="t" x="1826" y="4575"><tspan x="1826" dy="0">5.加强交通安全教育。在学生过双休或放假集</tspan><tspan x="1826" dy="13.4">体离开学校时，学生处派专人到校门口引导学</tspan><tspan x="1826" dy="13.4">生安全过马路、安全乘车。既保证了校门口（</tspan><tspan x="1826" dy="13.4">重要交通要道）的道路畅通，又保证了学生的</tspan><tspan x="1826" dy="13.4">安全。</tspan></text>
<text class="t" x="2063" y="4588"><tspan x="2063" dy="0">成绩只属于过去，今后我们将进一步加强学校</tspan><tspan x="2063" dy="13.4">的安全管理工作，及时解决安全工作中出现的</tspan><tspan x="2063" dy="13.4">新问题，不断提升我校安全管理工作水平。</tspan></text>
</g>

<g id="p7text">
<text class="t" x="1589" y="4675"><tspan x="1589" dy="0">xx年办公室小车队狠抓了队伍思想教育，强</tspan><tspan x="1589" dy="13.4">化爱岗敬业精神，自上而下统一思想，坚决贯</tspan><tspan x="1589" dy="13.4">彻安全第一，服务至上的原则。在日常工作中</tspan><tspan x="1589" dy="13.4">认真学习公司安委会和公司领导关于车辆安全</tspan><tspan x="1589" dy="13.4">的要求，加强驾驶员的安全意识教育。</tspan></text>
<text class="t" x="1589" y="4925"><tspan x="1589" dy="0">一、狠抓了安全教育，确保安全行驶。认真执</tspan><tspan x="1589" dy="13.4">行了"安全第一，预防为主"的方针，切实把安</tspan><tspan x="1589" dy="13.4">全工作放在首位。车队始终坚持采取专题学习</tspan><tspan x="1589" dy="13.4">、以会代训、重点帮助等方式，组织开展安全</tspan><tspan x="1589" dy="13.4">思想教育，及时学习国家和地方的交通法规条</tspan><tspan x="1589" dy="13.4">例和临时性交通管制文件，结合公司各项规章</tspan><tspan x="1589" dy="13.4">制度，对照现实找差距。具体工作实施如下:</tspan></text>
<text class="t" x="1589" y="5355"><tspan x="1589" dy="0">二、日常狠抓驾驶员管理，提高安全服务意识</tspan><tspan x="1589" dy="13.4">是工作重点。</tspan></text>
<text class="t" x="1589" y="5680"><tspan x="1589" dy="0">一、教育学生严格遵守学校的作息时间，上学</tspan><tspan x="1589" dy="13.4">、放学不准在学校和路途中逗留、玩耍，不允</tspan><tspan x="1589" dy="13.4">许不经家长允许跟同学去了，让家长随时了解</tspan><tspan x="1589" dy="13.4">其子女的去向。</tspan></text>
<text class="t" x="1589" y="5772"><tspan x="1589" dy="0">二、在校内外，不允许学生做危险的游戏。如</tspan><tspan x="1589" dy="13.4">；互相追打、攀爬楼梯、走廊里奔跑等危险动</tspan><tspan x="1589" dy="13.4">作。</tspan></text>
<text class="t" x="1589" y="5844"><tspan x="1589" dy="0">三、教育学生不买三无食品，不吃腐烂变质的</tspan><tspan x="1589" dy="13.4">食物，不喝不卫生的水和饮料，不吃陌生人给</tspan><tspan x="1589" dy="13.4">的东西。</tspan></text>
<text class="t" x="1589" y="5917"><tspan x="1589" dy="0">四、教育小学生不践踏学校的草坪，不损坏学</tspan><tspan x="1589" dy="13.4">校的桌椅和花草树木。</tspan></text>
<text class="t" x="1589" y="5976"><tspan x="1589" dy="0">五、教育学生不爬围墙，不爬树，不爬学校的</tspan><tspan x="1589" dy="13.4">体育器材，不玩火、不玩电、不玩爆竹。</tspan></text>
<text class="t" x="1589" y="6035"><tspan x="1589" dy="0">六、教育学生不带危险的物品到学校（如：木</tspan><tspan x="1589" dy="13.4">棒、小刀、匕首、气的枪等利器进入校园。）</tspan></text>
<text class="t" x="1589" y="6094"><tspan x="1589" dy="0">七、无论是集体活动还是体育课，都必须在教</tspan><tspan x="1589" dy="13.4">师的带领下进行，不得随意离开集体自己活动</tspan><tspan x="1589" dy="13.4">或不听指挥，遇到他人生病、遇险等，能及时</tspan><tspan x="1589" dy="13.4">报告老师。并且指导学生学会使用各种求救电</tspan><tspan x="1589" dy="13.4">话。</tspan></text>
<text class="t" x="1589" y="6214"><tspan x="1589" dy="0">八、夏季、只有在家长的带领、陪同下方可到</tspan><tspan x="1589" dy="13.4">游泳池游泳。千万不能私自到水沟、水塘、鱼</tspan><tspan x="1589" dy="13.4">塘、游泳池里戏水、游泳。</tspan></text>
<text class="t" x="1826" y="4773"><tspan x="1826" dy="0">1.每周召开一次安全例会，认真学习法制、</tspan><tspan x="1826" dy="13.4">法规、安全条例等以各种方式进行安全教育，</tspan><tspan x="1826" dy="13.4">先后请修理厂技师和交警队宣传科警官，对驾</tspan><tspan x="1826" dy="13.4">驶员和部分员工进行了车辆维护保养和交通安</tspan><tspan x="1826" dy="13.4">全警示教育，保证了全年行车无事故，安全行</tspan><tspan x="1826" dy="13.4">车里程达xxxxxx公里，未发生任何大小车辆</tspan><tspan x="1826" dy="13.4">责任事故，做到了遵章行驶，杜绝了酒后开车</tspan><tspan x="1826" dy="13.4">，疲劳开车，超速行驶，违章超车等，安全教</tspan><tspan x="1826" dy="13.4">育工作做到了"警钟长鸣"保证了安全行驶。</tspan></text>
<text class="t" x="1826" y="4928"><tspan x="1826" dy="0">2.坚持每周对车辆安全内部自检，并按照公司</tspan><tspan x="1826" dy="13.4">规定定期检查保养车辆，及时发现车辆安全隐</tspan><tspan x="1826" dy="13.4">患并及时到专修厂对车辆进行维护和检修，确</tspan><tspan x="1826" dy="13.4">保车辆无隐患无故障完成出车任务。</tspan></text>
<text class="t" x="1826" y="5013"><tspan x="1826" dy="0">3.坚持冬季车辆安全大检查，全部车辆均到专</tspan><tspan x="1826" dy="13.4">修厂进行专业检测，并根据专修厂提供的整改</tspan><tspan x="1826" dy="13.4">意见进行及时的维修养护。</tspan></text>
<text class="t" x="1826" y="5087"><tspan x="1826" dy="0">4.根据不同的天气状况，尤其是雨雪等恶劣天</tspan><tspan x="1826" dy="13.4">气，采取电话及短信形式追踪，提醒安全驾驶</tspan><tspan x="1826" dy="13.4">，保证休息，确保安全行车。</tspan></text>
<text class="t" x="2066" y="5087"><tspan x="2066" dy="0">5.根据交通法规，公司安委会和公司领导的</tspan><tspan x="2066" dy="13.4">安全要求，坚决杜绝超速违章行车，疲劳驾驶</tspan><tspan x="2066" dy="13.4">、酒后驾驶，确保行车安全。</tspan></text>
<text class="t" x="1826" y="5160"><tspan x="1826" dy="0">1.根据车队实际情况制定更为严格的规章制度</tspan><tspan x="1826" dy="13.4">。明确驾驶员的职责，对于驾驶技术不符合要</tspan><tspan x="1826" dy="13.4">求，服务被投诉，影响公司团结的驾驶员按照</tspan><tspan x="1826" dy="13.4">规章制度严格处理，确保车队的正常工作的进</tspan><tspan x="1826" dy="13.4">行。</tspan></text>
<text class="t" x="1826" y="5259"><tspan x="1826" dy="0">2.每周例会强调安全的同时，讲解服务成为不</tspan><tspan x="1826" dy="13.4">可缺少的科目。在严格的规章制度下，增强了</tspan><tspan x="1826" dy="13.4">驾驶员对工作岗位的危机感，确保安全行车完</tspan><tspan x="1826" dy="13.4">成各项生产任务。</tspan></text>
<text class="t" x="1826" y="5345"><tspan x="1826" dy="0">3.注意观察驾驶员的精神、身体状况，发现问</tspan><tspan x="1826" dy="13.4">题及时与本人进行沟通，最大限度的解决问题</tspan><tspan x="1826" dy="13.4">。</tspan></text>
<text class="t" x="1826" y="5511"><tspan x="1826" dy="0">4.随着车队各项管理制度化，全年未发生各类</tspan><tspan x="1826" dy="13.4">交通事故，各种违规违章行为日渐减少，有很</tspan><tspan x="1826" dy="13.4">多驾驶员达到全年无违章，无事故的安全标准</tspan><tspan x="1826" dy="13.4">，爱车是责任，优质服务是本职成为驾驶员的</tspan><tspan x="1826" dy="13.4">基本思想准则。</tspan></text>
<text class="t" x="2065" y="5419"><tspan x="2065" dy="0">总之，一年来，经全体驾驶人员的努力，保证</tspan><tspan x="2065" dy="13.4">车辆及人员安全，较好的完成了各项工作任务</tspan><tspan x="2065" dy="13.4">，但也存在着不足之处，经去交管部门核实全</tspan><tspan x="2065" dy="13.4">年全车队违章次数达35次，主要集中在市内</tspan><tspan x="2065" dy="13.4">道路未按规定车道行驶、乡村公路个别路段有</tspan><tspan x="2065" dy="13.4">超速行为。今后小车队会继续加强安全教育，</tspan><tspan x="2065" dy="13.4">加强对道路交通安全法的学习，争取使车辆违</tspan><tspan x="2065" dy="13.4">章次数有较大幅度的降低，确保安全行车，为</tspan><tspan x="2065" dy="13.4">公司的安全工作作出应有的贡献。</tspan></text>
<text class="t" x="2065" y="5579"><tspan x="2065" dy="0">孩子们的健康，快乐的成长是我们每位教师的</tspan><tspan x="2065" dy="13.4">职责在教给他们科学文化知识的同时，安全教</tspan><tspan x="2065" dy="13.4">育也是其中不可缺少的一部分。我担任的是一</tspan><tspan x="2065" dy="13.4">年级六班的班主任，本班共有四十一人。一学</tspan><tspan x="2065" dy="13.4">年结束了，我对本班的安全工作做如下总结:</tspan></text>
<text class="t" x="2303" y="5572"><tspan x="2303" dy="0">我对本班的安全高度重视，经常给学</tspan><tspan x="2303" dy="13.4">生灌输有关安全方面的知识，不断对</tspan><tspan x="2303" dy="13.4">他们进行安全教育。由于学生太小，</tspan><tspan x="2303" dy="13.4">我们进行安全知识教育，而且在课间有</tspan><tspan x="2303" dy="13.4">意去观察他们的动静，只要发现</tspan><tspan x="2303" dy="13.4">不安全的行为，就及时进行教育。</tspan></text>
<text class="t" x="1826" y="6035"><tspan x="1826" dy="0">不在井沿、变压台旁、高压电线下等危险的地</tspan><tspan x="1826" dy="13.4">方玩耍。不在上 学和放学路上玩耍、逗留。</tspan></text>
<text class="t" x="1826" y="6194"><tspan x="1826" dy="0">总之，一个学年的安全工作圆满结束了，在同</tspan><tspan x="1826" dy="13.4">学们和我们两位老师的努力下，全班四十一人</tspan><tspan x="1826" dy="13.4">无一例安全事故发生。但是，安全工作是班级</tspan><tspan x="1826" dy="13.4">工作中的重中之重，需要我们做到天天讲、时</tspan><tspan x="1826" dy="13.4">时讲，警钟长鸣才能杜绝一切不安全的事故发</tspan><tspan x="1826" dy="13.4">生。</tspan></text>
</g>
</g>
</svg>
